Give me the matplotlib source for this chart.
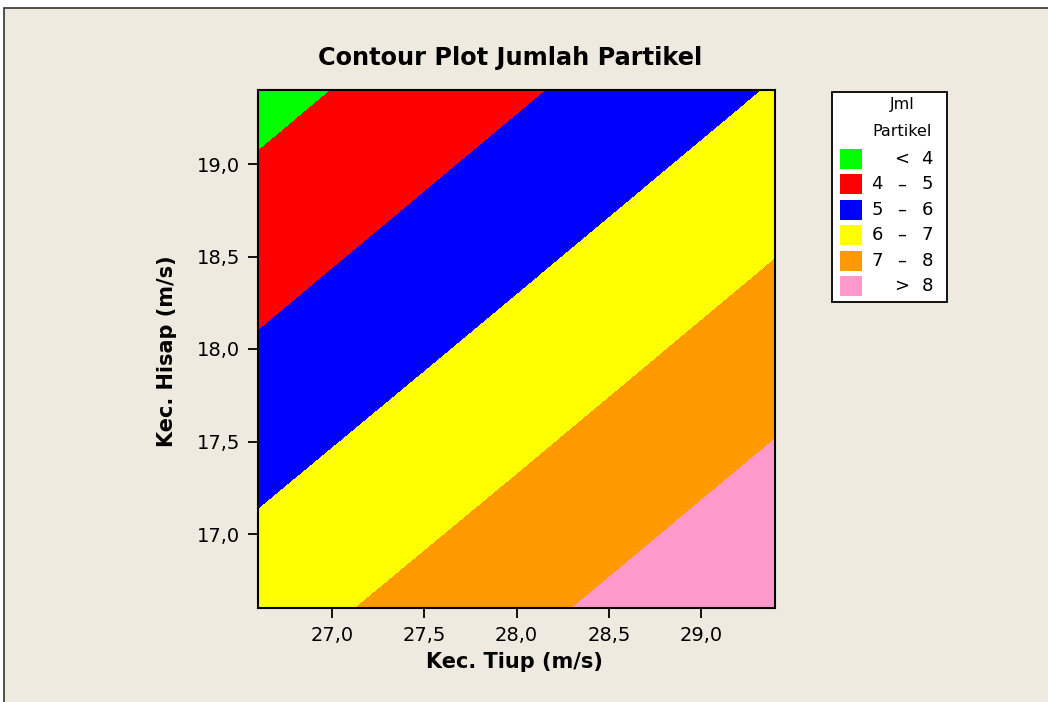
import numpy as np
import matplotlib
matplotlib.use("Agg")
from matplotlib import pyplot as plt
from matplotlib.patches import Rectangle
from matplotlib.ticker import FuncFormatter

# response surface values read on a coarse grid (x = Kec. Tiup, y = Kec. Hisap)
tiup = [26.6, 28.0, 29.4]
hisap = [16.6, 18.0, 19.4]
jumlah = [[6.55, 7.74, 8.94],
          [5.10, 6.30, 7.50],
          [3.66, 4.86, 6.06]]

levels = [4, 5, 6, 7, 8]
colors = ['#00FF00', '#FF0000', '#0000FF', '#FFFF00', '#FF9900', '#FF99CC']
xticks = [27.0, 27.5, 28.0, 28.5, 29.0]
yticks = [17.0, 17.5, 18.0, 18.5, 19.0]

W, H = 1048, 702
bg = '#EEEAE0'
plt.rcParams['font.family'] = 'DejaVu Sans'

fig = plt.figure(figsize=(W / 100, H / 100), dpi=100, facecolor='white')

def fx(px):
    return px / W

def fy(py):
    return 1 - py / H

# panel frame
fig.patches.append(Rectangle((fx(4), fy(H + 10)), 1.2, fy(8) - fy(H + 10),
                             transform=fig.transFigure, facecolor=bg,
                             edgecolor='#333333', linewidth=1.2, zorder=-10))

ax = fig.add_axes([fx(258), fy(608), fx(775) - fx(258), fy(90) - fy(608)])
ax.set_zorder(5)
X, Y = np.meshgrid(tiup, hisap)
bounds = [0] + levels + [20]
ax.contourf(X, Y, np.array(jumlah), levels=bounds, colors=colors)
ax.set_xlim(tiup[0], tiup[-1])
ax.set_ylim(hisap[0], hisap[-1])

comma = FuncFormatter(lambda v, p: f"{v:.1f}".replace('.', ','))
ax.set_xticks(xticks)
ax.set_yticks(yticks)
ax.xaxis.set_major_formatter(comma)
ax.yaxis.set_major_formatter(comma)
ax.tick_params(direction='out', length=7, width=1.3, labelsize=14, pad=6,
               colors='black', top=False, right=False)
for s in ax.spines.values():
    s.set_linewidth(1.5)
    s.set_color('black')

fig.text(fx(510), fy(58), 'Contour Plot Jumlah Partikel', ha='center', va='center',
         fontsize=17.3, fontweight='bold')
fig.text(fx(514), fy(662), 'Kec. Tiup (m/s)', ha='center', va='center',
         fontsize=15, fontweight='bold')
fig.text(fx(167), fy(351), 'Kec. Hisap (m/s)', ha='center', va='center',
         rotation=90, fontsize=15, fontweight='bold')

# legend box
fig.patches.append(Rectangle((fx(832), fy(302)), fx(947) - fx(832), fy(92) - fy(302),
                             transform=fig.transFigure, facecolor='white',
                             edgecolor='black', linewidth=1.3, zorder=1))
fig.text(fx(902), fy(105), 'Jml', ha='center', va='center', fontsize=11.5)
fig.text(fx(902), fy(132), 'Partikel', ha='center', va='center', fontsize=11.5)

labels = [('', '<', str(levels[0]))]
for lo, hi in zip(levels[:-1], levels[1:]):
    labels.append((str(lo), '\u2013', str(hi)))
labels.append(('', '>', str(levels[-1])))

for i, (c, lab) in enumerate(zip(colors, labels)):
    yc = 159 + i * 25.4
    fig.patches.append(Rectangle((fx(840), fy(yc + 10)), fx(862) - fx(840), fy(yc - 10) - fy(yc + 10),
                                 transform=fig.transFigure, facecolor=c,
                                 edgecolor='none', zorder=2))
    for xp, t in zip([877, 902, 927], lab):
        fig.text(fx(xp), fy(yc), t, ha='center', va='center', fontsize=13)

fig.savefig('out.png', dpi=100, facecolor=fig.get_facecolor())
